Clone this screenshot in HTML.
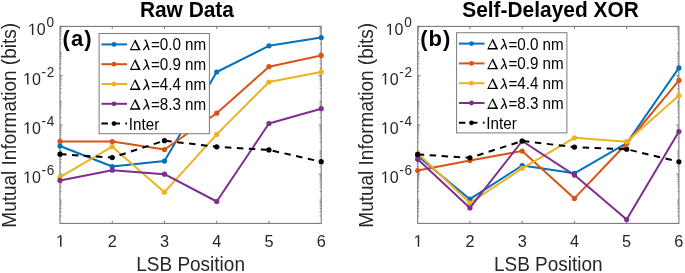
<!DOCTYPE html><html><head><meta charset="utf-8"><style>html,body{margin:0;padding:0;background:#fff;overflow:hidden}svg{display:block}text{font-family:"Liberation Sans",sans-serif}</style></head><body>
<svg width="685" height="273" viewBox="0 0 685 273">
<defs><filter id="bl" x="-5%" y="-5%" width="110%" height="110%"><feGaussianBlur stdDeviation="0.45"/></filter></defs>
<rect width="685" height="273" fill="#fff"/>
<g filter="url(#bl)">
<rect x="60.0" y="26.4" width="261.20" height="197.00" fill="none" stroke="#7a7a7a" stroke-width="1.1"/>
<path d="M112.24 223.4v-2.6M112.24 26.4v2.6M164.48 223.4v-2.6M164.48 26.4v2.6M216.72 223.4v-2.6M216.72 26.4v2.6M268.96 223.4v-2.6M268.96 26.4v2.6M60.0 26.40h2.6M321.2 26.40h-2.6M60.0 75.65h2.6M321.2 75.65h-2.6M60.0 124.90h2.6M321.2 124.90h-2.6M60.0 174.15h2.6M321.2 174.15h-2.6" stroke="#7a7a7a" stroke-width="1" fill="none"/>
<path d="M60.0 215.99h1.6M321.2 215.99h-1.6M60.0 211.65h1.6M321.2 211.65h-1.6M60.0 208.57h1.6M321.2 208.57h-1.6M60.0 206.19h1.6M321.2 206.19h-1.6M60.0 204.24h1.6M321.2 204.24h-1.6M60.0 202.59h1.6M321.2 202.59h-1.6M60.0 201.16h1.6M321.2 201.16h-1.6M60.0 199.90h1.6M321.2 199.90h-1.6M60.0 191.36h1.6M321.2 191.36h-1.6M60.0 187.03h1.6M321.2 187.03h-1.6M60.0 183.95h1.6M321.2 183.95h-1.6M60.0 181.56h1.6M321.2 181.56h-1.6M60.0 179.61h1.6M321.2 179.61h-1.6M60.0 177.96h1.6M321.2 177.96h-1.6M60.0 176.54h1.6M321.2 176.54h-1.6M60.0 175.28h1.6M321.2 175.28h-1.6M60.0 166.74h1.6M321.2 166.74h-1.6M60.0 162.40h1.6M321.2 162.40h-1.6M60.0 159.32h1.6M321.2 159.32h-1.6M60.0 156.94h1.6M321.2 156.94h-1.6M60.0 154.99h1.6M321.2 154.99h-1.6M60.0 153.34h1.6M321.2 153.34h-1.6M60.0 151.91h1.6M321.2 151.91h-1.6M60.0 150.65h1.6M321.2 150.65h-1.6M60.0 142.11h1.6M321.2 142.11h-1.6M60.0 137.78h1.6M321.2 137.78h-1.6M60.0 134.70h1.6M321.2 134.70h-1.6M60.0 132.31h1.6M321.2 132.31h-1.6M60.0 130.36h1.6M321.2 130.36h-1.6M60.0 128.71h1.6M321.2 128.71h-1.6M60.0 127.29h1.6M321.2 127.29h-1.6M60.0 126.03h1.6M321.2 126.03h-1.6M60.0 117.49h1.6M321.2 117.49h-1.6M60.0 113.15h1.6M321.2 113.15h-1.6M60.0 110.07h1.6M321.2 110.07h-1.6M60.0 107.69h1.6M321.2 107.69h-1.6M60.0 105.74h1.6M321.2 105.74h-1.6M60.0 104.09h1.6M321.2 104.09h-1.6M60.0 102.66h1.6M321.2 102.66h-1.6M60.0 101.40h1.6M321.2 101.40h-1.6M60.0 92.86h1.6M321.2 92.86h-1.6M60.0 88.53h1.6M321.2 88.53h-1.6M60.0 85.45h1.6M321.2 85.45h-1.6M60.0 83.06h1.6M321.2 83.06h-1.6M60.0 81.11h1.6M321.2 81.11h-1.6M60.0 79.46h1.6M321.2 79.46h-1.6M60.0 78.04h1.6M321.2 78.04h-1.6M60.0 76.78h1.6M321.2 76.78h-1.6M60.0 68.24h1.6M321.2 68.24h-1.6M60.0 63.90h1.6M321.2 63.90h-1.6M60.0 60.82h1.6M321.2 60.82h-1.6M60.0 58.44h1.6M321.2 58.44h-1.6M60.0 56.49h1.6M321.2 56.49h-1.6M60.0 54.84h1.6M321.2 54.84h-1.6M60.0 53.41h1.6M321.2 53.41h-1.6M60.0 52.15h1.6M321.2 52.15h-1.6M60.0 43.61h1.6M321.2 43.61h-1.6M60.0 39.28h1.6M321.2 39.28h-1.6M60.0 36.20h1.6M321.2 36.20h-1.6M60.0 33.81h1.6M321.2 33.81h-1.6M60.0 31.86h1.6M321.2 31.86h-1.6M60.0 30.21h1.6M321.2 30.21h-1.6M60.0 28.79h1.6M321.2 28.79h-1.6M60.0 27.53h1.6M321.2 27.53h-1.6" stroke="#7a7a7a" stroke-width="0.8" fill="none"/>
<polyline points="60.00,146.00 112.24,166.50 164.48,161.10 216.72,72.00 268.96,45.80 321.20,37.60" fill="none" stroke="#0072BD" stroke-width="2" stroke-linejoin="round"/>
<circle cx="60.00" cy="146.00" r="2.6" fill="#0072BD"/>
<circle cx="112.24" cy="166.50" r="2.6" fill="#0072BD"/>
<circle cx="164.48" cy="161.10" r="2.6" fill="#0072BD"/>
<circle cx="216.72" cy="72.00" r="2.6" fill="#0072BD"/>
<circle cx="268.96" cy="45.80" r="2.6" fill="#0072BD"/>
<circle cx="321.20" cy="37.60" r="2.6" fill="#0072BD"/>
<polyline points="60.00,141.40 112.24,141.60 164.48,149.50 216.72,113.20 268.96,66.70 321.20,55.40" fill="none" stroke="#D95319" stroke-width="2" stroke-linejoin="round"/>
<circle cx="60.00" cy="141.40" r="2.6" fill="#D95319"/>
<circle cx="112.24" cy="141.60" r="2.6" fill="#D95319"/>
<circle cx="164.48" cy="149.50" r="2.6" fill="#D95319"/>
<circle cx="216.72" cy="113.20" r="2.6" fill="#D95319"/>
<circle cx="268.96" cy="66.70" r="2.6" fill="#D95319"/>
<circle cx="321.20" cy="55.40" r="2.6" fill="#D95319"/>
<polyline points="60.00,177.10 112.24,146.70 164.48,192.20 216.72,134.40 268.96,82.00 321.20,71.90" fill="none" stroke="#EDB120" stroke-width="2" stroke-linejoin="round"/>
<circle cx="60.00" cy="177.10" r="2.6" fill="#EDB120"/>
<circle cx="112.24" cy="146.70" r="2.6" fill="#EDB120"/>
<circle cx="164.48" cy="192.20" r="2.6" fill="#EDB120"/>
<circle cx="216.72" cy="134.40" r="2.6" fill="#EDB120"/>
<circle cx="268.96" cy="82.00" r="2.6" fill="#EDB120"/>
<circle cx="321.20" cy="71.90" r="2.6" fill="#EDB120"/>
<polyline points="60.00,180.40 112.24,170.20 164.48,174.20 216.72,201.50 268.96,123.50 321.20,108.70" fill="none" stroke="#7E2F8E" stroke-width="2" stroke-linejoin="round"/>
<circle cx="60.00" cy="180.40" r="2.6" fill="#7E2F8E"/>
<circle cx="112.24" cy="170.20" r="2.6" fill="#7E2F8E"/>
<circle cx="164.48" cy="174.20" r="2.6" fill="#7E2F8E"/>
<circle cx="216.72" cy="201.50" r="2.6" fill="#7E2F8E"/>
<circle cx="268.96" cy="123.50" r="2.6" fill="#7E2F8E"/>
<circle cx="321.20" cy="108.70" r="2.6" fill="#7E2F8E"/>
<polyline points="60.00,154.20 112.24,157.60 164.48,140.70 216.72,146.80 268.96,149.90 321.20,161.70" fill="none" stroke="#000000" stroke-width="2" stroke-dasharray="6.5 5.5" stroke-linejoin="round"/>
<circle cx="60.00" cy="154.20" r="2.6" fill="#000000"/>
<circle cx="112.24" cy="157.60" r="2.6" fill="#000000"/>
<circle cx="164.48" cy="140.70" r="2.6" fill="#000000"/>
<circle cx="216.72" cy="146.80" r="2.6" fill="#000000"/>
<circle cx="268.96" cy="149.90" r="2.6" fill="#000000"/>
<circle cx="321.20" cy="161.70" r="2.6" fill="#000000"/>
<text transform="matrix(1 0 0 1.04 0 -1.404)" x="45.70" y="35.10" font-size="16" text-anchor="end" fill="#262626">0</text>
<path transform="translate(27.90,35.10) scale(0.00781,-0.00813)" d="M515,0L696,0L696,1409L530,1409L197,1180L197,1010L515,1237Z" fill="#262626"/>
<text transform="matrix(1 0 0 1.04 0 -1.092)" x="46.60" y="27.30" font-size="13.6" fill="#262626">0</text>
<text transform="matrix(1 0 0 1.04 0 -3.382)" x="40.85" y="84.55" font-size="16" text-anchor="end" fill="#262626">0</text>
<path transform="translate(23.05,84.55) scale(0.00781,-0.00813)" d="M515,0L696,0L696,1409L530,1409L197,1180L197,1010L515,1237Z" fill="#262626"/>
<text transform="matrix(1 0 0 1.04 0 -3.062)" x="41.60" y="76.55" font-size="13.6" fill="#262626">-</text>
<text transform="matrix(1 0 0 1.04 0 -3.062)" x="46.80" y="76.55" font-size="13.6" fill="#262626">2</text>
<text transform="matrix(1 0 0 1.04 0 -5.352)" x="40.85" y="133.80" font-size="16" text-anchor="end" fill="#262626">0</text>
<path transform="translate(23.05,133.80) scale(0.00781,-0.00813)" d="M515,0L696,0L696,1409L530,1409L197,1180L197,1010L515,1237Z" fill="#262626"/>
<text transform="matrix(1 0 0 1.04 0 -5.032)" x="41.60" y="125.80" font-size="13.6" fill="#262626">-</text>
<text transform="matrix(1 0 0 1.04 0 -5.032)" x="46.80" y="125.80" font-size="13.6" fill="#262626">4</text>
<text transform="matrix(1 0 0 1.04 0 -7.322)" x="40.85" y="183.05" font-size="16" text-anchor="end" fill="#262626">0</text>
<path transform="translate(23.05,183.05) scale(0.00781,-0.00813)" d="M515,0L696,0L696,1409L530,1409L197,1180L197,1010L515,1237Z" fill="#262626"/>
<text transform="matrix(1 0 0 1.04 0 -7.002)" x="41.60" y="175.05" font-size="13.6" fill="#262626">-</text>
<text transform="matrix(1 0 0 1.04 0 -7.002)" x="46.80" y="175.05" font-size="13.6" fill="#262626">6</text>
<path transform="translate(55.97,246.80) scale(0.00796,-0.00828)" d="M515,0L696,0L696,1409L530,1409L197,1180L197,1010L515,1237Z" fill="#262626"/>
<text transform="matrix(1 0 0 1.04 0 -9.872)" x="112.24" y="246.80" font-size="16.3" text-anchor="middle" fill="#262626">2</text>
<text transform="matrix(1 0 0 1.04 0 -9.872)" x="164.48" y="246.80" font-size="16.3" text-anchor="middle" fill="#262626">3</text>
<text transform="matrix(1 0 0 1.04 0 -9.872)" x="216.72" y="246.80" font-size="16.3" text-anchor="middle" fill="#262626">4</text>
<text transform="matrix(1 0 0 1.04 0 -9.872)" x="268.96" y="246.80" font-size="16.3" text-anchor="middle" fill="#262626">5</text>
<text transform="matrix(1 0 0 1.04 0 -9.872)" x="321.20" y="246.80" font-size="16.3" text-anchor="middle" fill="#262626">6</text>
<text transform="matrix(1 0 0 1.04 0 -10.832)" x="190.60" y="270.80" font-size="19.0" text-anchor="middle" fill="#262626">LSB Position</text>
<text transform="translate(15.60,125.3) rotate(-90) scale(1,1.04)" x="0" y="0" font-size="19.0" text-anchor="middle" fill="#262626">Mutual Information (bits)</text>
<text transform="matrix(1 0 0 1.04 0 -0.676)" x="186.90" y="16.90" font-size="20.9" text-anchor="middle" fill="#000" font-weight="bold">Raw Data</text>
<text transform="matrix(1 0 0 1.04 0 -1.840)" x="62.60" y="46.00" font-size="22" fill="#000" font-weight="bold" letter-spacing="1.0">(a)</text>
<rect x="99.10" y="33.5" width="110.3" height="100.2" fill="#fff" stroke="#7a7a7a" stroke-width="1"/>
<path d="M101.40 44.40h25.6" stroke="#0072BD" stroke-width="2"/>
<circle cx="114.00" cy="44.40" r="2.4" fill="#0072BD"/>
<g transform="translate(129.70,50.30)"><path d="M0,0L5.3,-10.5L5.9,-10.5L11,0ZM1.71,-1.4L5.18,-8.28L8.52,-1.4Z" fill="#000" fill-rule="evenodd"/><path d="M14.9,-9.9Q16.0,-10.6 16.7,-8.6L19.4,-0.2" stroke="#000" stroke-width="1.4" fill="none"/><path d="M17.3,-5.2L13.6,-0.1" stroke="#000" stroke-width="1.2" fill="none"/></g>
<text transform="matrix(1 0 0 1.04 0 -2.020)" x="150.90" y="50.50" font-size="15.2" fill="#000">=0.0 nm</text>
<path d="M101.40 64.20h25.6" stroke="#D95319" stroke-width="2"/>
<circle cx="114.00" cy="64.20" r="2.4" fill="#D95319"/>
<g transform="translate(129.70,70.10)"><path d="M0,0L5.3,-10.5L5.9,-10.5L11,0ZM1.71,-1.4L5.18,-8.28L8.52,-1.4Z" fill="#000" fill-rule="evenodd"/><path d="M14.9,-9.9Q16.0,-10.6 16.7,-8.6L19.4,-0.2" stroke="#000" stroke-width="1.4" fill="none"/><path d="M17.3,-5.2L13.6,-0.1" stroke="#000" stroke-width="1.2" fill="none"/></g>
<text transform="matrix(1 0 0 1.04 0 -2.812)" x="150.90" y="70.30" font-size="15.2" fill="#000">=0.9 nm</text>
<path d="M101.40 84.00h25.6" stroke="#EDB120" stroke-width="2"/>
<circle cx="114.00" cy="84.00" r="2.4" fill="#EDB120"/>
<g transform="translate(129.70,89.90)"><path d="M0,0L5.3,-10.5L5.9,-10.5L11,0ZM1.71,-1.4L5.18,-8.28L8.52,-1.4Z" fill="#000" fill-rule="evenodd"/><path d="M14.9,-9.9Q16.0,-10.6 16.7,-8.6L19.4,-0.2" stroke="#000" stroke-width="1.4" fill="none"/><path d="M17.3,-5.2L13.6,-0.1" stroke="#000" stroke-width="1.2" fill="none"/></g>
<text transform="matrix(1 0 0 1.04 0 -3.604)" x="150.90" y="90.10" font-size="15.2" fill="#000">=4.4 nm</text>
<path d="M101.40 103.80h25.6" stroke="#7E2F8E" stroke-width="2"/>
<circle cx="114.00" cy="103.80" r="2.4" fill="#7E2F8E"/>
<g transform="translate(129.70,109.70)"><path d="M0,0L5.3,-10.5L5.9,-10.5L11,0ZM1.71,-1.4L5.18,-8.28L8.52,-1.4Z" fill="#000" fill-rule="evenodd"/><path d="M14.9,-9.9Q16.0,-10.6 16.7,-8.6L19.4,-0.2" stroke="#000" stroke-width="1.4" fill="none"/><path d="M17.3,-5.2L13.6,-0.1" stroke="#000" stroke-width="1.2" fill="none"/></g>
<text transform="matrix(1 0 0 1.04 0 -4.396)" x="150.90" y="109.90" font-size="15.2" fill="#000">=8.3 nm</text>
<path d="M101.40 123.60h25.6" stroke="#000" stroke-width="2" stroke-dasharray="6.5 5.5"/>
<circle cx="114.00" cy="123.60" r="2.4" fill="#000"/>
<text transform="matrix(1 0 0 1.04 0 -5.188)" x="128.80" y="129.70" font-size="15.2" fill="#000">Inter</text>
<rect x="417.7" y="26.4" width="261.20" height="197.00" fill="none" stroke="#7a7a7a" stroke-width="1.1"/>
<path d="M469.94 223.4v-2.6M469.94 26.4v2.6M522.18 223.4v-2.6M522.18 26.4v2.6M574.42 223.4v-2.6M574.42 26.4v2.6M626.66 223.4v-2.6M626.66 26.4v2.6M417.7 26.40h2.6M678.9 26.40h-2.6M417.7 75.65h2.6M678.9 75.65h-2.6M417.7 124.90h2.6M678.9 124.90h-2.6M417.7 174.15h2.6M678.9 174.15h-2.6" stroke="#7a7a7a" stroke-width="1" fill="none"/>
<path d="M417.7 215.99h1.6M678.9 215.99h-1.6M417.7 211.65h1.6M678.9 211.65h-1.6M417.7 208.57h1.6M678.9 208.57h-1.6M417.7 206.19h1.6M678.9 206.19h-1.6M417.7 204.24h1.6M678.9 204.24h-1.6M417.7 202.59h1.6M678.9 202.59h-1.6M417.7 201.16h1.6M678.9 201.16h-1.6M417.7 199.90h1.6M678.9 199.90h-1.6M417.7 191.36h1.6M678.9 191.36h-1.6M417.7 187.03h1.6M678.9 187.03h-1.6M417.7 183.95h1.6M678.9 183.95h-1.6M417.7 181.56h1.6M678.9 181.56h-1.6M417.7 179.61h1.6M678.9 179.61h-1.6M417.7 177.96h1.6M678.9 177.96h-1.6M417.7 176.54h1.6M678.9 176.54h-1.6M417.7 175.28h1.6M678.9 175.28h-1.6M417.7 166.74h1.6M678.9 166.74h-1.6M417.7 162.40h1.6M678.9 162.40h-1.6M417.7 159.32h1.6M678.9 159.32h-1.6M417.7 156.94h1.6M678.9 156.94h-1.6M417.7 154.99h1.6M678.9 154.99h-1.6M417.7 153.34h1.6M678.9 153.34h-1.6M417.7 151.91h1.6M678.9 151.91h-1.6M417.7 150.65h1.6M678.9 150.65h-1.6M417.7 142.11h1.6M678.9 142.11h-1.6M417.7 137.78h1.6M678.9 137.78h-1.6M417.7 134.70h1.6M678.9 134.70h-1.6M417.7 132.31h1.6M678.9 132.31h-1.6M417.7 130.36h1.6M678.9 130.36h-1.6M417.7 128.71h1.6M678.9 128.71h-1.6M417.7 127.29h1.6M678.9 127.29h-1.6M417.7 126.03h1.6M678.9 126.03h-1.6M417.7 117.49h1.6M678.9 117.49h-1.6M417.7 113.15h1.6M678.9 113.15h-1.6M417.7 110.07h1.6M678.9 110.07h-1.6M417.7 107.69h1.6M678.9 107.69h-1.6M417.7 105.74h1.6M678.9 105.74h-1.6M417.7 104.09h1.6M678.9 104.09h-1.6M417.7 102.66h1.6M678.9 102.66h-1.6M417.7 101.40h1.6M678.9 101.40h-1.6M417.7 92.86h1.6M678.9 92.86h-1.6M417.7 88.53h1.6M678.9 88.53h-1.6M417.7 85.45h1.6M678.9 85.45h-1.6M417.7 83.06h1.6M678.9 83.06h-1.6M417.7 81.11h1.6M678.9 81.11h-1.6M417.7 79.46h1.6M678.9 79.46h-1.6M417.7 78.04h1.6M678.9 78.04h-1.6M417.7 76.78h1.6M678.9 76.78h-1.6M417.7 68.24h1.6M678.9 68.24h-1.6M417.7 63.90h1.6M678.9 63.90h-1.6M417.7 60.82h1.6M678.9 60.82h-1.6M417.7 58.44h1.6M678.9 58.44h-1.6M417.7 56.49h1.6M678.9 56.49h-1.6M417.7 54.84h1.6M678.9 54.84h-1.6M417.7 53.41h1.6M678.9 53.41h-1.6M417.7 52.15h1.6M678.9 52.15h-1.6M417.7 43.61h1.6M678.9 43.61h-1.6M417.7 39.28h1.6M678.9 39.28h-1.6M417.7 36.20h1.6M678.9 36.20h-1.6M417.7 33.81h1.6M678.9 33.81h-1.6M417.7 31.86h1.6M678.9 31.86h-1.6M417.7 30.21h1.6M678.9 30.21h-1.6M417.7 28.79h1.6M678.9 28.79h-1.6M417.7 27.53h1.6M678.9 27.53h-1.6" stroke="#7a7a7a" stroke-width="0.8" fill="none"/>
<polyline points="417.70,156.00 469.94,199.20 522.18,165.50 574.42,173.30 626.66,143.20 678.90,67.90" fill="none" stroke="#0072BD" stroke-width="2" stroke-linejoin="round"/>
<circle cx="417.70" cy="156.00" r="2.6" fill="#0072BD"/>
<circle cx="469.94" cy="199.20" r="2.6" fill="#0072BD"/>
<circle cx="522.18" cy="165.50" r="2.6" fill="#0072BD"/>
<circle cx="574.42" cy="173.30" r="2.6" fill="#0072BD"/>
<circle cx="626.66" cy="143.20" r="2.6" fill="#0072BD"/>
<circle cx="678.90" cy="67.90" r="2.6" fill="#0072BD"/>
<polyline points="417.70,170.60 469.94,160.60 522.18,151.10 574.42,198.40 626.66,143.50 678.90,80.40" fill="none" stroke="#D95319" stroke-width="2" stroke-linejoin="round"/>
<circle cx="417.70" cy="170.60" r="2.6" fill="#D95319"/>
<circle cx="469.94" cy="160.60" r="2.6" fill="#D95319"/>
<circle cx="522.18" cy="151.10" r="2.6" fill="#D95319"/>
<circle cx="574.42" cy="198.40" r="2.6" fill="#D95319"/>
<circle cx="626.66" cy="143.50" r="2.6" fill="#D95319"/>
<circle cx="678.90" cy="80.40" r="2.6" fill="#D95319"/>
<polyline points="417.70,153.30 469.94,203.00 522.18,168.30 574.42,137.80 626.66,141.70 678.90,95.60" fill="none" stroke="#EDB120" stroke-width="2" stroke-linejoin="round"/>
<circle cx="417.70" cy="153.30" r="2.6" fill="#EDB120"/>
<circle cx="469.94" cy="203.00" r="2.6" fill="#EDB120"/>
<circle cx="522.18" cy="168.30" r="2.6" fill="#EDB120"/>
<circle cx="574.42" cy="137.80" r="2.6" fill="#EDB120"/>
<circle cx="626.66" cy="141.70" r="2.6" fill="#EDB120"/>
<circle cx="678.90" cy="95.60" r="2.6" fill="#EDB120"/>
<polyline points="417.70,159.30 469.94,207.90 522.18,141.00 574.42,175.10 626.66,219.60 678.90,131.50" fill="none" stroke="#7E2F8E" stroke-width="2" stroke-linejoin="round"/>
<circle cx="417.70" cy="159.30" r="2.6" fill="#7E2F8E"/>
<circle cx="469.94" cy="207.90" r="2.6" fill="#7E2F8E"/>
<circle cx="522.18" cy="141.00" r="2.6" fill="#7E2F8E"/>
<circle cx="574.42" cy="175.10" r="2.6" fill="#7E2F8E"/>
<circle cx="626.66" cy="219.60" r="2.6" fill="#7E2F8E"/>
<circle cx="678.90" cy="131.50" r="2.6" fill="#7E2F8E"/>
<polyline points="417.70,154.40 469.94,157.80 522.18,141.00 574.42,147.10 626.66,149.20 678.90,161.80" fill="none" stroke="#000000" stroke-width="2" stroke-dasharray="6.5 5.5" stroke-linejoin="round"/>
<circle cx="417.70" cy="154.40" r="2.6" fill="#000000"/>
<circle cx="469.94" cy="157.80" r="2.6" fill="#000000"/>
<circle cx="522.18" cy="141.00" r="2.6" fill="#000000"/>
<circle cx="574.42" cy="147.10" r="2.6" fill="#000000"/>
<circle cx="626.66" cy="149.20" r="2.6" fill="#000000"/>
<circle cx="678.90" cy="161.80" r="2.6" fill="#000000"/>
<text transform="matrix(1 0 0 1.04 0 -1.404)" x="403.40" y="35.10" font-size="16" text-anchor="end" fill="#262626">0</text>
<path transform="translate(385.60,35.10) scale(0.00781,-0.00813)" d="M515,0L696,0L696,1409L530,1409L197,1180L197,1010L515,1237Z" fill="#262626"/>
<text transform="matrix(1 0 0 1.04 0 -1.092)" x="404.30" y="27.30" font-size="13.6" fill="#262626">0</text>
<text transform="matrix(1 0 0 1.04 0 -3.382)" x="398.55" y="84.55" font-size="16" text-anchor="end" fill="#262626">0</text>
<path transform="translate(380.75,84.55) scale(0.00781,-0.00813)" d="M515,0L696,0L696,1409L530,1409L197,1180L197,1010L515,1237Z" fill="#262626"/>
<text transform="matrix(1 0 0 1.04 0 -3.062)" x="399.30" y="76.55" font-size="13.6" fill="#262626">-</text>
<text transform="matrix(1 0 0 1.04 0 -3.062)" x="404.50" y="76.55" font-size="13.6" fill="#262626">2</text>
<text transform="matrix(1 0 0 1.04 0 -5.352)" x="398.55" y="133.80" font-size="16" text-anchor="end" fill="#262626">0</text>
<path transform="translate(380.75,133.80) scale(0.00781,-0.00813)" d="M515,0L696,0L696,1409L530,1409L197,1180L197,1010L515,1237Z" fill="#262626"/>
<text transform="matrix(1 0 0 1.04 0 -5.032)" x="399.30" y="125.80" font-size="13.6" fill="#262626">-</text>
<text transform="matrix(1 0 0 1.04 0 -5.032)" x="404.50" y="125.80" font-size="13.6" fill="#262626">4</text>
<text transform="matrix(1 0 0 1.04 0 -7.322)" x="398.55" y="183.05" font-size="16" text-anchor="end" fill="#262626">0</text>
<path transform="translate(380.75,183.05) scale(0.00781,-0.00813)" d="M515,0L696,0L696,1409L530,1409L197,1180L197,1010L515,1237Z" fill="#262626"/>
<text transform="matrix(1 0 0 1.04 0 -7.002)" x="399.30" y="175.05" font-size="13.6" fill="#262626">-</text>
<text transform="matrix(1 0 0 1.04 0 -7.002)" x="404.50" y="175.05" font-size="13.6" fill="#262626">6</text>
<path transform="translate(413.67,246.80) scale(0.00796,-0.00828)" d="M515,0L696,0L696,1409L530,1409L197,1180L197,1010L515,1237Z" fill="#262626"/>
<text transform="matrix(1 0 0 1.04 0 -9.872)" x="469.94" y="246.80" font-size="16.3" text-anchor="middle" fill="#262626">2</text>
<text transform="matrix(1 0 0 1.04 0 -9.872)" x="522.18" y="246.80" font-size="16.3" text-anchor="middle" fill="#262626">3</text>
<text transform="matrix(1 0 0 1.04 0 -9.872)" x="574.42" y="246.80" font-size="16.3" text-anchor="middle" fill="#262626">4</text>
<text transform="matrix(1 0 0 1.04 0 -9.872)" x="626.66" y="246.80" font-size="16.3" text-anchor="middle" fill="#262626">5</text>
<text transform="matrix(1 0 0 1.04 0 -9.872)" x="678.90" y="246.80" font-size="16.3" text-anchor="middle" fill="#262626">6</text>
<text transform="matrix(1 0 0 1.04 0 -10.832)" x="548.30" y="270.80" font-size="19.0" text-anchor="middle" fill="#262626">LSB Position</text>
<text transform="translate(373.30,125.3) rotate(-90) scale(1,1.04)" x="0" y="0" font-size="19.0" text-anchor="middle" fill="#262626">Mutual Information (bits)</text>
<text transform="matrix(1 0 0 1.04 0 -0.676)" x="550.50" y="16.90" font-size="20.9" text-anchor="middle" fill="#000" font-weight="bold">Self-Delayed XOR</text>
<text transform="matrix(1 0 0 1.04 0 -1.840)" x="420.30" y="46.00" font-size="22" fill="#000" font-weight="bold" letter-spacing="1.0">(b)</text>
<rect x="456.60" y="32.7" width="110.3" height="100.2" fill="#fff" stroke="#7a7a7a" stroke-width="1"/>
<path d="M458.90 43.60h25.6" stroke="#0072BD" stroke-width="2"/>
<circle cx="471.50" cy="43.60" r="2.4" fill="#0072BD"/>
<g transform="translate(487.20,49.50)"><path d="M0,0L5.3,-10.5L5.9,-10.5L11,0ZM1.71,-1.4L5.18,-8.28L8.52,-1.4Z" fill="#000" fill-rule="evenodd"/><path d="M14.9,-9.9Q16.0,-10.6 16.7,-8.6L19.4,-0.2" stroke="#000" stroke-width="1.4" fill="none"/><path d="M17.3,-5.2L13.6,-0.1" stroke="#000" stroke-width="1.2" fill="none"/></g>
<text transform="matrix(1 0 0 1.04 0 -1.988)" x="508.40" y="49.70" font-size="15.2" fill="#000">=0.0 nm</text>
<path d="M458.90 63.40h25.6" stroke="#D95319" stroke-width="2"/>
<circle cx="471.50" cy="63.40" r="2.4" fill="#D95319"/>
<g transform="translate(487.20,69.30)"><path d="M0,0L5.3,-10.5L5.9,-10.5L11,0ZM1.71,-1.4L5.18,-8.28L8.52,-1.4Z" fill="#000" fill-rule="evenodd"/><path d="M14.9,-9.9Q16.0,-10.6 16.7,-8.6L19.4,-0.2" stroke="#000" stroke-width="1.4" fill="none"/><path d="M17.3,-5.2L13.6,-0.1" stroke="#000" stroke-width="1.2" fill="none"/></g>
<text transform="matrix(1 0 0 1.04 0 -2.780)" x="508.40" y="69.50" font-size="15.2" fill="#000">=0.9 nm</text>
<path d="M458.90 83.20h25.6" stroke="#EDB120" stroke-width="2"/>
<circle cx="471.50" cy="83.20" r="2.4" fill="#EDB120"/>
<g transform="translate(487.20,89.10)"><path d="M0,0L5.3,-10.5L5.9,-10.5L11,0ZM1.71,-1.4L5.18,-8.28L8.52,-1.4Z" fill="#000" fill-rule="evenodd"/><path d="M14.9,-9.9Q16.0,-10.6 16.7,-8.6L19.4,-0.2" stroke="#000" stroke-width="1.4" fill="none"/><path d="M17.3,-5.2L13.6,-0.1" stroke="#000" stroke-width="1.2" fill="none"/></g>
<text transform="matrix(1 0 0 1.04 0 -3.572)" x="508.40" y="89.30" font-size="15.2" fill="#000">=4.4 nm</text>
<path d="M458.90 103.00h25.6" stroke="#7E2F8E" stroke-width="2"/>
<circle cx="471.50" cy="103.00" r="2.4" fill="#7E2F8E"/>
<g transform="translate(487.20,108.90)"><path d="M0,0L5.3,-10.5L5.9,-10.5L11,0ZM1.71,-1.4L5.18,-8.28L8.52,-1.4Z" fill="#000" fill-rule="evenodd"/><path d="M14.9,-9.9Q16.0,-10.6 16.7,-8.6L19.4,-0.2" stroke="#000" stroke-width="1.4" fill="none"/><path d="M17.3,-5.2L13.6,-0.1" stroke="#000" stroke-width="1.2" fill="none"/></g>
<text transform="matrix(1 0 0 1.04 0 -4.364)" x="508.40" y="109.10" font-size="15.2" fill="#000">=8.3 nm</text>
<path d="M458.90 122.80h25.6" stroke="#000" stroke-width="2" stroke-dasharray="6.5 5.5"/>
<circle cx="471.50" cy="122.80" r="2.4" fill="#000"/>
<text transform="matrix(1 0 0 1.04 0 -5.156)" x="486.30" y="128.90" font-size="15.2" fill="#000">Inter</text>
</g></svg></body></html>
